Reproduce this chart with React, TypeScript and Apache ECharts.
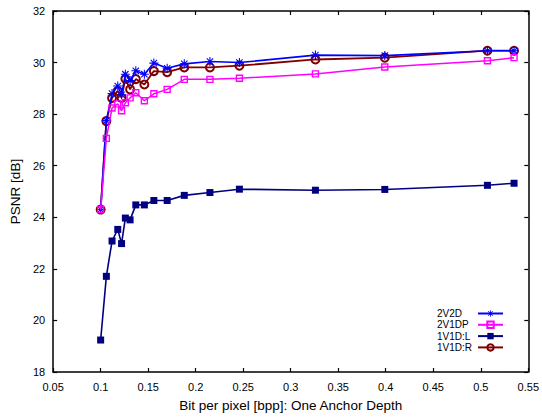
import React, { useEffect, useRef } from "react";
import * as echarts from "echarts";

const bpp = [0.1, 0.106, 0.112, 0.118, 0.122, 0.126, 0.131, 0.137, 0.146, 0.156, 0.17, 0.188, 0.215, 0.246, 0.326, 0.399, 0.507, 0.535];
const s2V2D = [24.3, 27.75, 28.8, 29.09, 28.75, 29.55, 29.3, 29.68, 29.55, 29.98, 29.78, 29.95, 30.04, 30.0, 30.29, 30.27, 30.46, 30.46];
const s2V1DP = [24.3, 27.06, 28.24, 28.4, 28.13, 28.44, 28.63, 28.83, 28.52, 28.79, 28.96, 29.35, 29.35, 29.39, 29.56, 29.83, 30.07, 30.19];
const s1V1DL = [19.24, 21.71, 23.08, 23.53, 22.98, 23.97, 23.9, 24.48, 24.48, 24.65, 24.65, 24.85, 24.96, 25.09, 25.05, 25.08, 25.24, 25.32];
const s1V1DR = [24.3, 27.73, 28.63, 28.9, 28.63, 29.37, 28.96, 29.36, 29.15, 29.67, 29.63, 29.81, 29.81, 29.88, 30.12, 30.19, 30.46, 30.46];
const seriesNames = ["2V2D", "2V1DP", "1V1D:L", "1V1D:R"];

const starPath =
  "path://M-1,-0.12L1,-0.12L1,0.12L-1,0.12Z" +
  "M-0.12,-1L0.12,-1L0.12,1L-0.12,1Z" +
  "M-0.622,-0.792L0.792,0.622L0.622,0.792L-0.792,-0.622Z" +
  "M-0.792,0.622L0.622,-0.792L0.792,-0.622L-0.622,0.792Z";

const pairs = (ys: number[]) => bpp.map((x, i) => [x, ys[i]]);

export default function App() {
  const ref = useRef<HTMLDivElement>(null);
  useEffect(() => {
    if (!ref.current) return;
    const chart = echarts.init(ref.current, null, { renderer: "svg" });
    const font = "Liberation Sans, Arial, sans-serif";
    const axisCommon = {
      type: "value" as const,
      axisLine: { show: true, lineStyle: { color: "#000", width: 1.5 } },
      axisTick: { show: true, inside: true, length: 4, lineStyle: { color: "#000", width: 1.2 } },
      splitLine: { show: false },
    };
    chart.setOption({
      animation: false,
      backgroundColor: "#fff",
      grid: { left: 42, right: 11, top: 11, bottom: 45 },
      xAxis: [
        {
          ...axisCommon,
          position: "bottom",
          min: 0.05,
          max: 0.55,
          interval: 0.05,
          name: "Bit per pixel [bpp]: One Anchor Depth",
          nameLocation: "middle",
          nameGap: 26,
          nameTextStyle: { fontFamily: font, fontSize: 13.5, color: "#000" },
          axisLabel: {
            margin: 9,
            fontFamily: font,
            fontSize: 11,
            color: "#000",
            formatter: (v: number) => String(Math.round(v * 100) / 100),
          },
        },
        {
          ...axisCommon,
          position: "top",
          min: 0.05,
          max: 0.55,
          interval: 0.05,
          axisLabel: { show: false },
        },
      ],
      yAxis: [
        {
          ...axisCommon,
          position: "left",
          min: 18,
          max: 32,
          interval: 2,
          name: "PSNR [dB]",
          nameLocation: "middle",
          nameGap: 18,
          nameTextStyle: { fontFamily: font, fontSize: 13.5, color: "#000" },
          axisLabel: { margin: 8, fontFamily: font, fontSize: 11, color: "#000", padding: [7, 0, 0, 0] },
        },
        {
          ...axisCommon,
          position: "right",
          min: 18,
          max: 32,
          interval: 2,
          axisLabel: { show: false },
        },
      ],
      legend: {
        orient: "vertical",
        left: 432,
        top: 303,
        align: "right",
        itemWidth: 25,
        itemHeight: 8,
        itemGap: 0.3,
        selectedMode: false,
        formatter: (name: string) => `{t|${name}}`,
        textStyle: {
          fontFamily: font,
          fontSize: 10,
          color: "#000",
          lineHeight: 11,
          rich: {
            t: { width: 36, align: "left", fontFamily: font, fontSize: 10, color: "#000", lineHeight: 11 },
          },
        },
        data: seriesNames,
      },
      series: [
        {
          name: seriesNames[0],
          type: "line",
          data: pairs(s2V2D),
          symbol: starPath,
          symbolSize: 9,
          itemStyle: { color: "#0000ff" },
          lineStyle: { color: "#0000ff", width: 1.6 },
          z: 2,
        },
        {
          name: seriesNames[1],
          type: "line",
          data: pairs(s2V1DP),
          symbol: "rect",
          symbolSize: 6,
          itemStyle: { color: "rgba(255,255,255,0)", borderColor: "#ff00ff", borderWidth: 1.4 },
          lineStyle: { color: "#ff00ff", width: 1.5 },
          z: 3,
        },
        {
          name: seriesNames[2],
          type: "line",
          data: pairs(s1V1DL),
          symbol: "rect",
          symbolSize: 7,
          itemStyle: { color: "#000080" },
          lineStyle: { color: "#000080", width: 1.6 },
          z: 4,
        },
        {
          name: seriesNames[3],
          type: "line",
          data: pairs(s1V1DR),
          symbol: "circle",
          symbolSize: 8,
          itemStyle: { color: "rgba(255,255,255,0)", borderColor: "#800000", borderWidth: 2 },
          lineStyle: { color: "#800000", width: 1.8 },
          z: 1,
        },
      ],
    });
    return () => chart.dispose();
  }, []);
  return (
    <div
      ref={ref}
      style={{ position: "absolute", left: 0, top: 0, width: 542, height: 417, background: "#fff" }}
    />
  );
}
